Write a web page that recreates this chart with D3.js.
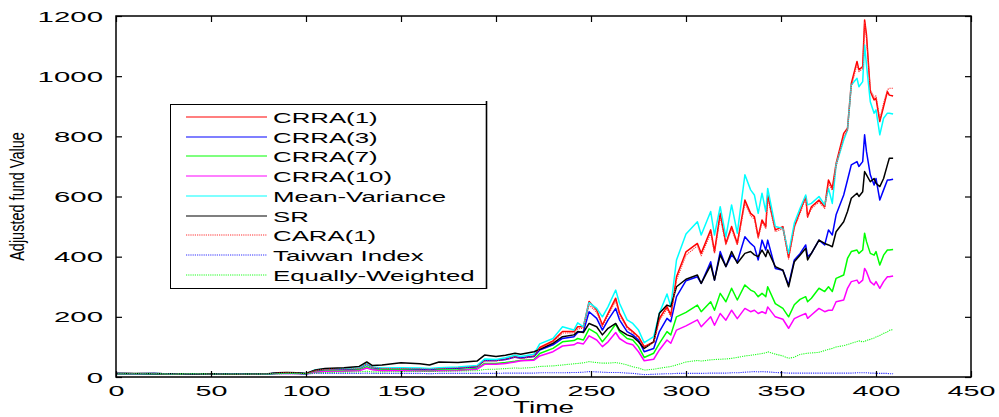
<!DOCTYPE html>
<html>
<head>
<meta charset="utf-8">
<script src="https://cdn.jsdelivr.net/npm/d3@7"></script>
<style>
  body { margin: 0; background: #fff; }
  text { font-family: Arial, "Liberation Sans", sans-serif; }
</style>
</head>
<body>
<script>
// time index (trading periods)
const times = [0,10,20,30,40,50,60,70,80,85,
  90,95,100,105,110,120,128,132,135,140,
  150,160,165,170,180,190,194,200,205,210,
  213,220,223,230,235,241,243,246,249,253,
  256,259,263,265,269,272,275,278,283,286,
  290,292,295,300,306,308,313,315,318,321,
  324,327,331,334,336,338,340,342,343,347,
  351,354,357,360,363,364,366,370,373,375,
  377,379,383,385,387,390,391,393,394,395,
  397,399,400,402,404,406,407,409];

const crra1 = [12,11,12,10,11,10,10,9,10,13,
  14,13,11,22,25,26,28,46,32,28,
  28,27,25,28,30,35,56,55,60,68,
  63,70,98,120,151,151,167,167,251,223,
  173,212,262,212,167,151,134,101,117,195,
  234,206,333,416,444,411,489,417,544,444,
  500,444,588,544,533,466,522,500,605,489,
  500,398,500,550,600,533,566,588,566,655,
  627,710,810,827,976,1049,1021,1032,1187,1137,
  949,921,926,849,899,949,937,934];

const crra3 = [12,11,12,10,11,10,10,9,10,13,
  14,13,11,21,24,25,27,42,31,27,
  27,26,24,27,29,34,56,55,58,66,
  63,68,90,107,128,134,148,151,217,195,
  156,190,228,190,151,140,123,84,95,151,
  195,184,267,320,333,311,383,322,417,367,
  406,383,466,444,433,389,455,422,455,361,
  355,306,389,410,439,400,411,455,439,489,
  472,539,605,655,705,716,700,716,805,749,
  672,638,660,588,622,655,655,657];

const crra7 = [12,11,12,10,11,10,10,9,10,12,
  13,12,11,18,20,21,23,34,26,23,
  23,22,20,23,24,28,45,45,48,52,
  55,58,78,95,117,121,128,123,160,145,
  117,140,176,151,128,123,101,65,79,112,
  151,140,200,215,239,217,250,222,278,250,
  295,256,306,289,283,267,278,267,300,244,
  228,200,240,258,267,250,262,295,284,300,
  284,328,339,394,417,422,411,422,478,450,
  411,405,417,372,405,422,422,424];

const crra10 = [12,11,12,10,11,10,10,9,10,12,
  12,12,10,16,18,19,21,30,24,21,
  21,20,19,21,22,26,42,42,45,50,
  54,56,70,84,103,107,114,110,137,123,
  101,117,148,128,112,107,84,54,59,90,
  123,112,156,170,190,167,200,172,211,189,
  222,194,228,217,222,211,217,211,233,200,
  192,162,194,203,211,195,206,228,217,222,
  222,250,256,295,317,322,311,322,361,350,
  317,306,317,295,317,333,333,336];

const meanVar = [12,11,12,10,11,10,11,9,10,13,
  14,13,11,24,27,28,30,44,33,30,
  31,30,28,31,33,38,60,58,64,72,
  68,76,110,128,167,156,180,167,247,228,
  200,234,289,245,190,178,156,114,134,212,
  276,234,389,475,516,472,550,472,566,466,
  572,478,672,622,605,544,611,550,627,500,
  494,411,511,560,605,572,577,600,572,627,
  577,705,788,821,971,993,965,982,1104,1037,
  915,877,888,805,860,877,877,874];

const sr = [12,12,11,11,10,11,10,10,11,14,
  15,14,12,23,28,31,35,50,38,40,
  47,44,40,50,48,53,73,68,72,79,
  76,84,92,112,134,140,151,148,178,167,
  140,162,178,156,140,134,117,95,117,212,
  239,234,300,325,339,311,372,322,406,367,
  417,378,411,417,406,400,422,400,422,367,
  355,300,383,405,428,389,411,455,444,439,
  433,483,516,550,594,611,600,616,683,672,
  649,660,644,633,660,705,727,727];

const cara1 = [12,11,12,10,11,10,10,9,10,13,
  14,13,11,22,25,26,28,44,32,28,
  28,27,26,28,30,35,54,54,58,66,
  61,68,95,116,146,147,160,162,240,215,
  167,205,252,205,162,147,130,100,114,188,
  226,200,322,405,436,403,478,410,532,440,
  492,438,578,536,525,460,515,494,595,483,
  493,392,495,544,595,530,560,582,560,645,
  620,700,800,820,965,1040,1015,1025,1180,1128,
  955,930,935,858,910,955,960,960];

const taiwan = [12,11,12,11,11,10,11,10,10,11,
  11,11,10,12,12,12,12,13,12,12,
  12,12,11,12,12,12,12,12,13,13,
  13,13,14,14,14,15,15,16,18,17,
  16,15,15,15,13,12,10,8,9,10,
  11,11,12,12,12,12,13,13,13,13,
  14,14,16,17,18,17,18,17,17,15,
  14,13,13,13,13,13,13,13,13,13,
  13,13,13,13,13,14,14,14,14,14,
  13,13,12,12,12,12,11,11];

const equalW = [11,11,11,10,11,10,10,10,10,11,
  12,12,11,14,15,16,17,19,17,17,
  18,19,18,19,20,21,25,26,28,30,
  29,32,35,37,40,44,45,47,51,48,
  46,46,48,46,40,34,30,23,26,29,
  33,35,40,50,55,53,57,58,59,60,
  62,65,70,72,74,76,78,80,84,76,
  70,62,66,75,78,79,80,82,88,92,
  95,100,104,108,112,118,120,117,118,122,
  125,130,133,138,145,150,155,158];

const seriesNames = ['CRRA(1)', 'CRRA(3)', 'CRRA(7)', 'CRRA(10)', 'Mean-Variance',
  'SR', 'CARA(1)', 'Taiwan Index', 'Equally-Weighted'];
const xTicks = [0, 50, 100, 150, 200, 250, 300, 350, 400, 450];
const yTicks = [0, 200, 400, 600, 800, 1000, 1200];

const series = [
  { name: seriesNames[0], values: crra1, color: '#ff0000', dash: null },
  { name: seriesNames[1], values: crra3, color: '#0000ff', dash: null },
  { name: seriesNames[2], values: crra7, color: '#00ff00', dash: null },
  { name: seriesNames[3], values: crra10, color: '#ff00ff', dash: null },
  { name: seriesNames[4], values: meanVar, color: '#00ffff', dash: null },
  { name: seriesNames[5], values: sr, color: '#000000', dash: null },
  { name: seriesNames[6], values: cara1, color: '#ff3030', dash: '1.2,1' },
  { name: seriesNames[7], values: taiwan, color: '#3030ff', dash: '1.2,1' },
  { name: seriesNames[8], values: equalW, color: '#20ff20', dash: '1.2,1' }
];

const svg = d3.select('body').append('svg')
  .attr('width', 999)
  .attr('height', 417);

const x = d3.scaleLinear().domain([0, 450]).range([116, 971]);
const y = d3.scaleLinear().domain([0, 1200]).range([377, 16]);

// lines
const line = d3.line()
  .x((d, i) => x(times[i]))
  .y(d => y(d));

svg.append('g').selectAll('path')
  .data(series).enter()
  .append('path')
  .attr('d', d => line(d.values))
  .attr('fill', 'none')
  .attr('stroke', d => d.color)
  .attr('stroke-width', d => d.dash ? 1.1 : 1.5)
  .attr('stroke-dasharray', d => d.dash)
  .attr('stroke-linejoin', 'round');

// frame
svg.append('rect')
  .attr('x', x(0)).attr('y', y(1200))
  .attr('width', x(450) - x(0)).attr('height', y(0) - y(1200))
  .attr('fill', 'none').attr('stroke', '#000').attr('stroke-width', 1.5);

// axes, ticks pointing inward
const xAxis = svg.append('g')
  .attr('transform', `translate(0,${y(0)})`)
  .call(d3.axisBottom(x).tickValues(xTicks).tickSize(-6).tickPadding(0).tickFormat(d3.format('d')));
xAxis.select('.domain').remove();
xAxis.selectAll('text')
  .attr('y', null).attr('dy', null)
  .attr('transform', 'translate(0,19) scale(2.05,1)')
  .style('font-size', '14px');

const xTop = svg.append('g')
  .attr('transform', `translate(0,${y(1200)})`)
  .call(d3.axisTop(x).tickValues(xTicks).tickSize(-6).tickFormat(''));
xTop.select('.domain').remove();

const yAxis = svg.append('g')
  .attr('transform', `translate(${x(0)},0)`)
  .call(d3.axisLeft(y).tickValues(yTicks).tickSize(-6).tickPadding(0).tickFormat(d3.format('d')));
yAxis.select('.domain').remove();
yAxis.selectAll('text')
  .attr('x', null).attr('dy', null)
  .attr('transform', 'translate(-13,5) scale(2.1,1)')
  .style('font-size', '14px');

const yRight = svg.append('g')
  .attr('transform', `translate(${x(450)},0)`)
  .call(d3.axisRight(y).tickValues(yTicks).tickSize(-6).tickFormat(''));
yRight.select('.domain').remove();

svg.selectAll('.tick line').attr('stroke-width', 1.2);

// axis titles
svg.append('text')
  .attr('transform', `translate(${(x(0) + x(450)) / 2},413) scale(1.75,1)`)
  .attr('text-anchor', 'middle')
  .style('font-size', '16px')
  .text('Time');

svg.append('text')
  .attr('transform', `translate(24,${(y(0) + y(1200)) / 2}) scale(1.35,1) rotate(-90)`)
  .attr('text-anchor', 'middle')
  .style('font-size', '14.5px')
  .text('Adjusted fund Value');

// legend
const legend = svg.append('g');
legend.append('rect')
  .attr('x', 170.5).attr('y', 104.5)
  .attr('width', 316).attr('height', 184)
  .attr('fill', '#fff').attr('stroke', '#000').attr('stroke-width', 1);
legend.append('line')
  .attr('x1', 486.5).attr('x2', 486.5).attr('y1', 101).attr('y2', 289)
  .attr('stroke', '#000').attr('stroke-width', 1.6);

const rows = legend.selectAll('g.row')
  .data(series).enter()
  .append('g')
  .attr('class', 'row')
  .attr('transform', (d, i) => `translate(0,${Math.round(117 + i * 19.7)})`);

rows.append('line')
  .attr('x1', 186).attr('x2', 267)
  .attr('stroke', d => d.color)
  .attr('stroke-width', 1.2)
  .attr('stroke-dasharray', d => d.dash);

rows.append('text')
  .attr('transform', 'translate(273,5.5) scale(1.78,1)')
  .style('font-size', '14.5px')
  .text(d => d.name);
</script>
</body>
</html>
